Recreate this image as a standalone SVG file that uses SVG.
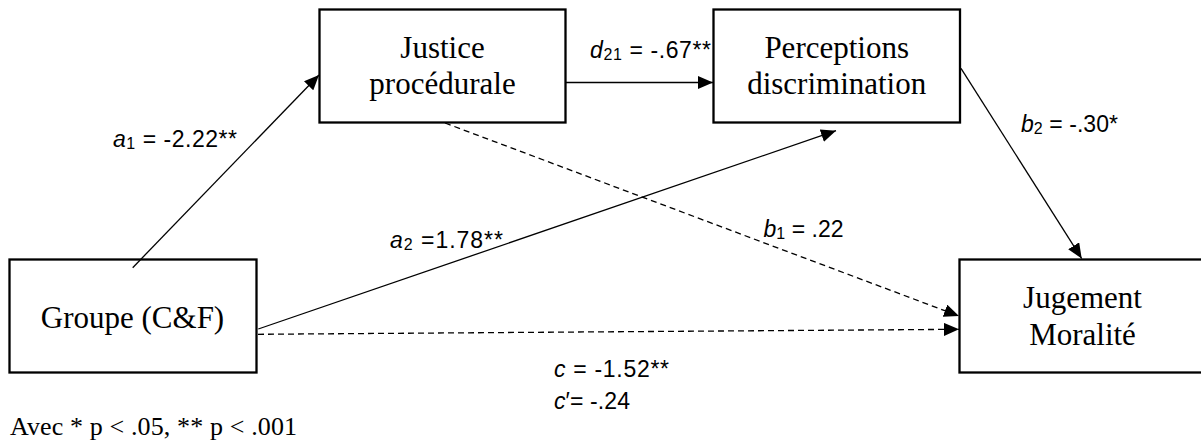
<svg xmlns="http://www.w3.org/2000/svg" width="1201" height="441" viewBox="0 0 1201 441">
<style>
.box{fill:#fff;stroke:#000;stroke-width:2.3}
.nt{font-family:"Liberation Serif","Times New Roman",serif;font-size:31px;fill:#000;text-anchor:middle}
.ln{stroke:#000;stroke-width:1.3;fill:none}
.dash{stroke-dasharray:6,4}
.lb{font-family:"Liberation Sans",Arial,sans-serif;font-size:23px;fill:#000}
.it{font-style:italic}
.sub{font-size:16px}
.ft{font-family:"Liberation Serif","Times New Roman",serif;font-size:26px;fill:#000}
</style>
<defs>
<marker id="ah" markerUnits="userSpaceOnUse" markerWidth="16" markerHeight="13" refX="15" refY="6.5" orient="auto">
<path d="M0,0 L15,6.5 L0,13 z" fill="#000"/>
</marker>
</defs>
<rect width="1201" height="441" fill="#fff"/>
<g id="node-justice">
<rect class="box" x="319.5" y="9.5" width="246" height="113"/>
<text class="nt" x="442.5" y="58.3">Justice</text>
<text class="nt" x="442.5" y="94">procédurale</text>
</g>
<g id="node-perceptions">
<rect class="box" x="713.5" y="9.5" width="246.5" height="113"/>
<text class="nt" x="836.7" y="58.3">Perceptions</text>
<text class="nt" x="836.7" y="94">discrimination</text>
</g>
<g id="node-groupe">
<rect class="box" x="9.5" y="259.5" width="247" height="113"/>
<text class="nt" x="132.5" y="327.5">Groupe (C&amp;F)</text>
</g>
<g id="node-jugement">
<rect class="box" x="959.5" y="259.5" width="246" height="113"/>
<text class="nt" x="1082.5" y="308.3">Jugement</text>
<text class="nt" x="1082.5" y="345">Moralité</text>
</g>
<g id="connectors">
<line class="ln" x1="132.7" y1="267.7" x2="319" y2="75" marker-end="url(#ah)"/>
<line class="ln" x1="566" y1="82.5" x2="713" y2="82.5" marker-end="url(#ah)"/>
<line class="ln" x1="258.3" y1="329" x2="836" y2="130.7" marker-end="url(#ah)"/>
<line class="ln dash" x1="445" y1="123" x2="959" y2="316" marker-end="url(#ah)"/>
<line class="ln dash" x1="258" y1="334.3" x2="959" y2="329.3" marker-end="url(#ah)"/>
<line class="ln" x1="961" y1="68.3" x2="1081.7" y2="258.5" marker-end="url(#ah)"/>
</g>
<g id="labels">
<text class="lb" x="113" y="146.7" textLength="124" lengthAdjust="spacing"><tspan class="it">a</tspan><tspan class="sub" dy="2">1</tspan><tspan dy="-2"> = -2.22**</tspan></text>
<text class="lb" x="590" y="58.3" textLength="121" lengthAdjust="spacing"><tspan class="it">d</tspan><tspan class="sub" dy="2">21</tspan><tspan dy="-2"> = -.67**</tspan></text>
<text class="lb" x="1021" y="131.7" textLength="97" lengthAdjust="spacing"><tspan class="it">b</tspan><tspan class="sub" dy="2">2</tspan><tspan dy="-2"> = -.30*</tspan></text>
<text class="lb" x="390" y="248.3" textLength="113" lengthAdjust="spacing"><tspan class="it">a</tspan><tspan class="sub" dy="2">2</tspan><tspan dy="-2"> =1.78**</tspan></text>
<text class="lb" x="763.5" y="237.3" textLength="80" lengthAdjust="spacing"><tspan class="it">b</tspan><tspan class="sub" dy="2">1</tspan><tspan dy="-2"> = .22</tspan></text>
<text class="lb" x="554" y="376.7" textLength="115" lengthAdjust="spacing"><tspan class="it">c</tspan> = -1.52**</text>
<text class="lb" x="554" y="409.3" textLength="76" lengthAdjust="spacing"><tspan class="it">c</tspan>′= -.24</text>
<text class="ft" x="10" y="435" textLength="287" lengthAdjust="spacing">Avec * p &lt; .05, ** p &lt; .001</text>
</g>
</svg>
